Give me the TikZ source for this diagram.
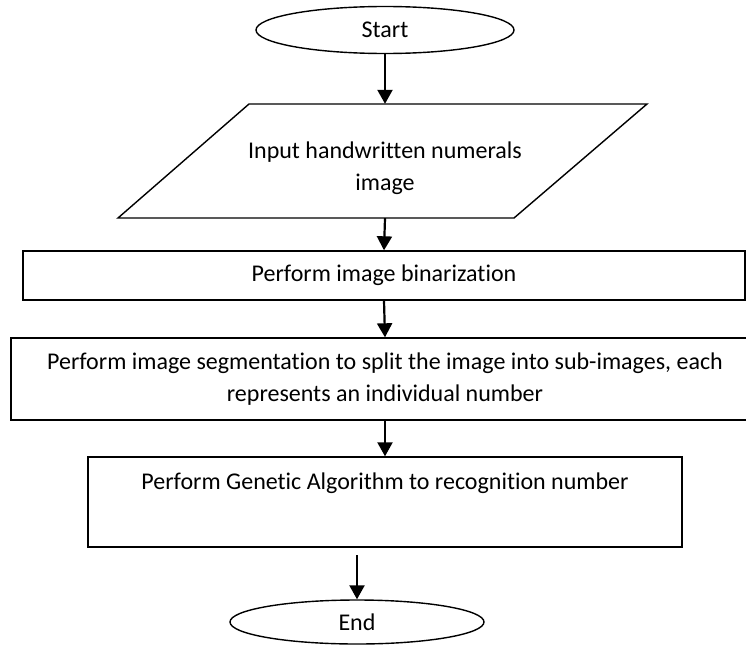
\documentclass[tikz,border=0pt]{standalone}
\usepackage{fontspec}
\setmainfont{Carlito}[Ligatures={NoCommon,NoRequired,NoContextual,NoRare,NoDiscretionary}]
\usetikzlibrary{arrows.meta,shapes.geometric}
\begin{document}
\begin{tikzpicture}[x=1pt,y=-1pt,
  box/.style={draw, line width=1.4pt, rectangle, inner sep=0pt, align=center},
  term/.style={draw, line width=1.4pt, ellipse, inner sep=0pt},
  flow/.style={line width=2.2pt, -{Triangle[length=14pt,width=15pt]}},
  font=\fontsize{24}{32}\selectfont]
\useasboundingbox (0,0) rectangle (746,645);
\clip (0,0) rectangle (746,645);
% start
\node[term, minimum width=258pt, minimum height=47pt] (start) at (385,30) {\raisebox{-6pt}{Start}};
% input parallelogram
\draw[line width=1.4pt] (249,104) -- (647,104) -- (514,218) -- (118,218) -- cycle;
\node[minimum width=400pt, minimum height=114pt, inner sep=0pt] (in) at (385,161) {};
\node[align=center, inner sep=0pt] (intext) at (385,168) {Input handwritten numerals\\image};
% boxes
\node[box, minimum width=722pt, minimum height=49pt] (bin) at (384,275.5) {Perform image binarization};
\node[box, minimum width=748pt, minimum height=82pt] (seg) at (385,379) {Perform image segmentation to split the image into sub-images, each\\represents an individual number};
\node[box, minimum width=594pt, minimum height=90pt] (ga) at (385,502) {Perform Genetic Algorithm to recognition number\\\strut};
% end
\node[term, minimum width=254pt, minimum height=44pt] (end) at (357,622) {\raisebox{-5pt}{End}};
\coordinate (gaout) at (357,555);
% connectors
\draw[flow] (start.south) -- (in.north);
\draw[flow] (in.south) -- (bin.north);
\draw[flow] (bin.south) -- (seg.north);
\draw[flow] (seg.south) -- (ga.north);
\draw[flow] (gaout) -- (end.north);
\end{tikzpicture}
\end{document}
